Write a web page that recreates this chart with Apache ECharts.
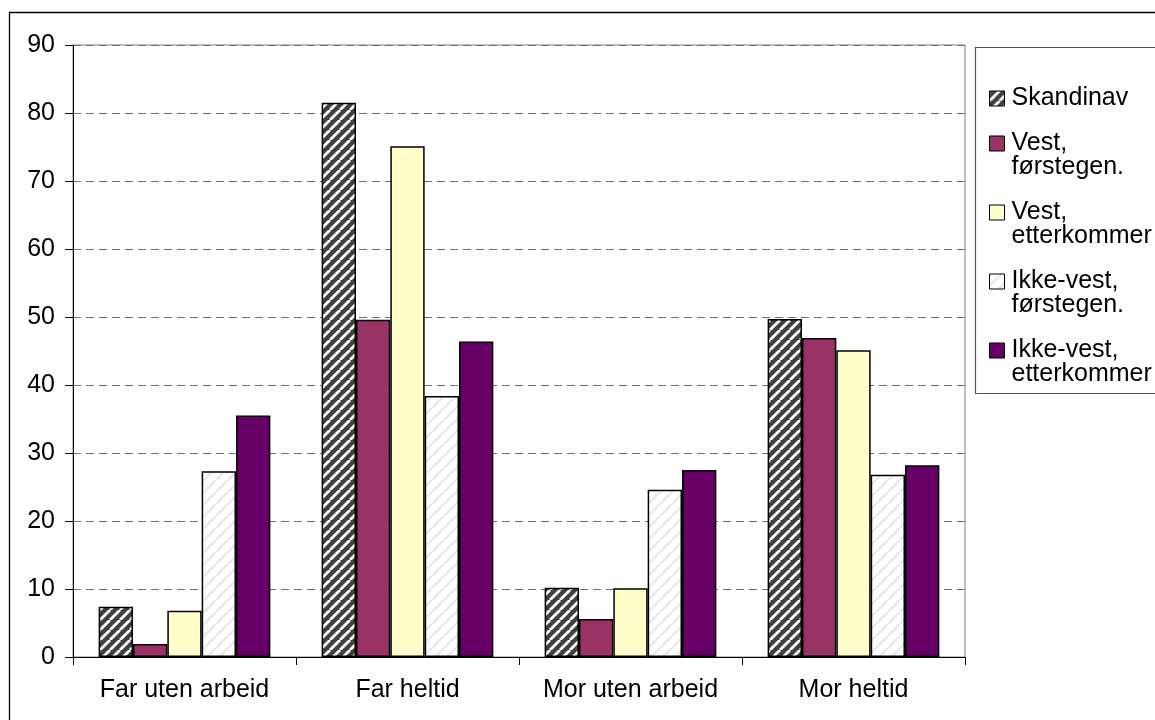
<!DOCTYPE html>
<html>
<head>
<meta charset="utf-8">
<script src="https://cdn.jsdelivr.net/npm/echarts@6/dist/echarts.min.js"></script>
<style>
  html, body { margin: 0; padding: 0; background: #fff; }
  #chart { width: 1155px; height: 720px; }
</style>
</head>
<body>
<div id="chart"></div>
<script>
// Categories and values (percent)
const categories = ['Far uten arbeid', 'Far heltid', 'Mor uten arbeid', 'Mor heltid'];
const seriesNames = ['Skandinav', 'Vest,\nførstegen.', 'Vest,\netterkommer', 'Ikke-vest,\nførstegen.', 'Ikke-vest,\netterkommer'];
const skandinav      = [7.4, 81.5, 10.2, 49.7];
const vestForste     = [1.9, 49.6, 5.6, 46.9];
const vestEtter      = [6.8, 75.1, 10.1, 45.1];
const ikkeVestForste = [27.3, 38.4, 24.6, 26.8];
const ikkeVestEtter  = [35.5, 46.4, 27.5, 28.2];
const yTicks = { min: 0, max: 90, interval: 10 };

// Diagonal stripe fill used for the hatched series
function stripes(bg, fg, size, width) {
  const c = document.createElement('canvas');
  c.width = size; c.height = size;
  const ctx = c.getContext('2d');
  ctx.fillStyle = bg;
  ctx.fillRect(0, 0, size, size);
  ctx.strokeStyle = fg;
  ctx.lineWidth = width;
  ctx.beginPath();
  for (let k = -1; k <= 1; k++) {
    ctx.moveTo(k * size, size);
    ctx.lineTo(k * size + size, 0);
  }
  ctx.stroke();
  return { image: c, repeat: 'repeat' };
}

const fills = [
  stripes('#404040', '#ffffff', 10, 2.8),
  '#993366',
  '#ffffcc',
  stripes('#ffffff', '#ebebeb', 12, 3),
  '#660066'
];
const values = [skandinav, vestForste, vestEtter, ikkeVestForste, ikkeVestEtter];

const font = 'Liberation Sans, Arial, sans-serif';

const chart = echarts.init(document.getElementById('chart'), null, { renderer: 'canvas' });
chart.setOption({
  animation: false,
  backgroundColor: '#ffffff',
  textStyle: { fontFamily: font },
  grid: {
    left: 73, top: 45, right: 190, bottom: 63,
    show: true, borderColor: '#808080', borderWidth: 1
  },
  legend: {
    orient: 'vertical',
    left: 989, top: 86,
    padding: 0,
    itemWidth: 15, itemHeight: 15,
    itemGap: -4,
    icon: 'rect',
    selectedMode: false,
    formatter: name => name.indexOf('\n') >= 0 ? '\n' + name : name,
    textStyle: { fontSize: 25, color: '#000', lineHeight: 24, fontFamily: font, padding: [0, 0, 0, 2] },
    itemStyle: { borderColor: '#000', borderWidth: 1 }
  },
  graphic: [
    { type: 'rect', silent: true, z: -1,
      shape: { x: 9.5, y: 12.5, width: 1300, height: 800 },
      style: { fill: 'none', stroke: '#000', lineWidth: 1.3 } },
    { type: 'rect', silent: true,
      shape: { x: 975.5, y: 47.5, width: 400, height: 346 },
      style: { fill: 'none', stroke: '#555', lineWidth: 1.2 } }
  ],
  xAxis: {
    type: 'category',
    data: categories,
    boundaryGap: true,
    axisLine: { lineStyle: { color: '#000', width: 1 } },
    axisTick: { show: true, interval: 0, length: 8, lineStyle: { color: '#000' } },
    axisLabel: { fontSize: 25, color: '#000', margin: 21, fontFamily: font, interval: 0 }
  },
  yAxis: {
    type: 'value',
    min: yTicks.min, max: yTicks.max, interval: yTicks.interval,
    axisLine: { show: true, lineStyle: { color: '#000', width: 1 } },
    axisTick: { show: true, length: 8, lineStyle: { color: '#000' } },
    axisLabel: { fontSize: 25, color: '#000', margin: 18, fontFamily: font },
    splitLine: { show: true, lineStyle: { color: '#707070', width: 1, type: [8, 5] } }
  },
  series: seriesNames.map((name, i) => ({
    name: name,
    type: 'bar',
    data: values[i],
    barGap: '0%',
    barCategoryGap: '23%',
    itemStyle: { color: fills[i], borderColor: '#000', borderWidth: 1.5 }
  }))
});
</script>
</body>
</html>
